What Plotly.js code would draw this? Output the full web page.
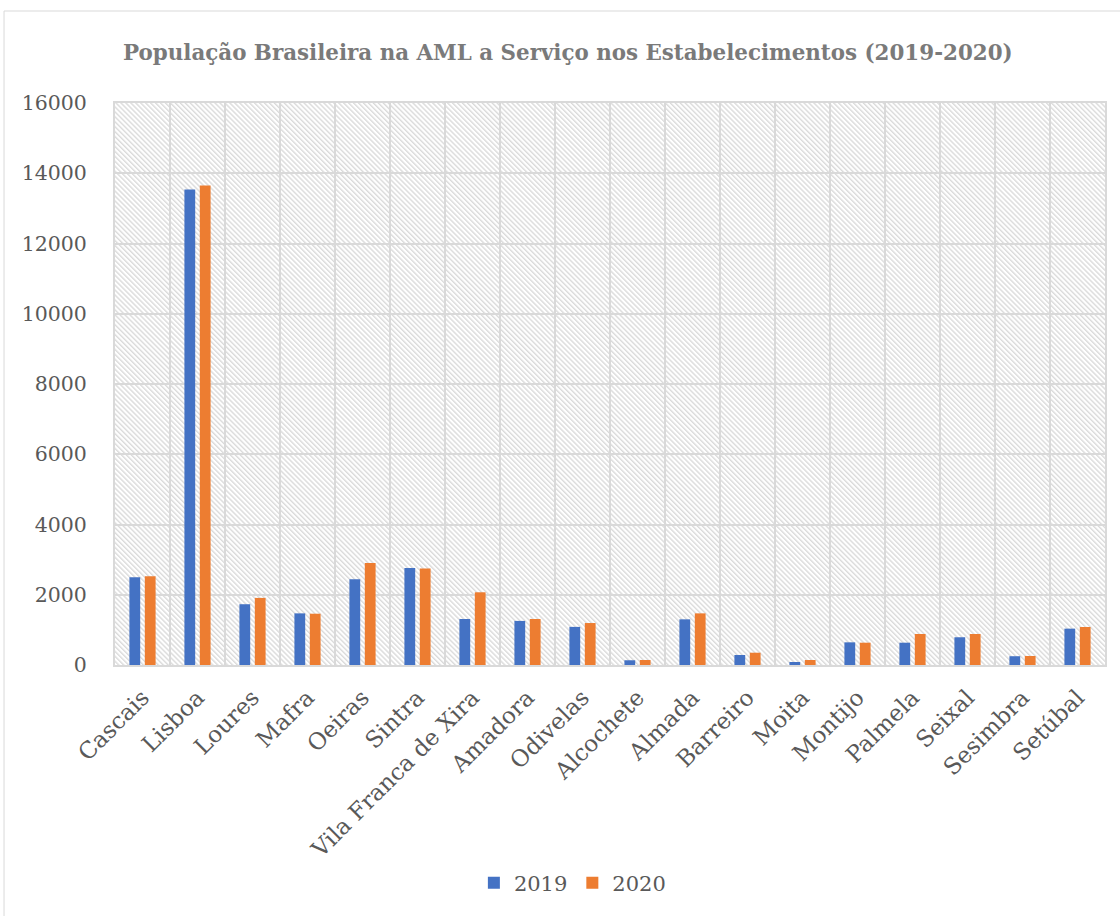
<!DOCTYPE html>
<html>
<head>
<meta charset="utf-8">
<script src="https://cdn.plot.ly/plotly-3.0.1.min.js"></script>
<style>html,body{margin:0;padding:0;background:#fff;}#chart{width:1120px;height:916px;}</style>
</head>
<body>
<div id="chart"></div>
<script>
const categories = ["Cascais","Lisboa","Loures","Mafra","Oeiras","Sintra","Vila Franca de Xira","Amadora","Odivelas","Alcochete","Almada","Barreiro","Moita","Montijo","Palmela","Seixal","Sesimbra","Setúbal"];
const v2019 = [2500, 13540, 1730, 1470, 2440, 2760, 1310, 1255, 1085, 135, 1300, 285, 85, 645, 635, 790, 250, 1035];
const v2020 = [2530, 13650, 1910, 1460, 2905, 2750, 2070, 1310, 1195, 142, 1470, 350, 142, 635, 883, 883, 256, 1082];
const seriesNames = ["2019", "2020"];
const yTicks = [0, 2000, 4000, 6000, 8000, 10000, 12000, 14000, 16000];

const FONT = "'DejaVu Serif',serif";

const hatchSvg = '<svg xmlns="http://www.w3.org/2000/svg" width="990" height="562">' +
  '<defs><pattern id="h" patternUnits="userSpaceOnUse" width="3.5" height="20" patternTransform="rotate(-45)">' +
  '<rect x="0" y="0" width="1.4" height="20" fill="#dadada"/></pattern></defs>' +
  '<rect width="990" height="562" fill="#ffffff"/><rect width="990" height="562" fill="url(#h)"/></svg>';

const traces = [
  {type: 'bar', name: seriesNames[0], x: categories, y: v2019, marker: {color: '#4472C4'}},
  {type: 'bar', name: seriesNames[1], x: categories, y: v2020, marker: {color: '#ED7D31'}}
];

const layout = {
  width: 1120, height: 916,
  margin: {l: 115, r: 15, t: 103, b: 251},
  paper_bgcolor: '#ffffff',
  plot_bgcolor: 'rgba(0,0,0,0)',
  font: {family: FONT, color: '#595959', size: 20},
  title: {
    text: '<b>População Brasileira na AML a Serviço nos Estabelecimentos (2019-2020)</b>',
    font: {family: FONT, size: 21.4, color: '#7a7a7a'},
    x: 0.507, xanchor: 'center', xref: 'container',
    y: 0.943, yanchor: 'middle', yref: 'container'
  },
  barmode: 'group',
  bargap: 0.44,
  bargroupgap: 0.3,
  xaxis: {
    type: 'category',
    tickson: 'boundaries',
    showgrid: true, gridcolor: '#d9d9d9', gridwidth: 2,
    showline: true, linecolor: '#d9d9d9', linewidth: 2, mirror: true,
    ticks: '', tickangle: -45,
    tickfont: {family: FONT, size: 23, color: '#595959'},
    ticklabelstandoff: 8,
    zeroline: false
  },
  yaxis: {
    range: [0, 16000],
    tickvals: yTicks,
    ticktext: yTicks.map(String),
    showgrid: true, gridcolor: '#d9d9d9', gridwidth: 2,
    showline: true, linecolor: '#d9d9d9', linewidth: 2, mirror: true,
    ticks: '', zeroline: false,
    tickfont: {family: FONT, size: 20.5, color: '#595959'},
    ticklabelstandoff: 22
  },
  legend: {
    orientation: 'h',
    x: 0.462, xanchor: 'center',
    y: -0.388, yanchor: 'middle',
    font: {family: FONT, size: 21, color: '#595959'},
    itemsizing: 'constant'
  },
  images: [{
    source: 'data:image/svg+xml;charset=utf-8,' + encodeURIComponent(hatchSvg),
    xref: 'paper', yref: 'paper', x: 0, y: 1, sizex: 1, sizey: 1,
    xanchor: 'left', yanchor: 'top', sizing: 'stretch', layer: 'below'
  }],
  shapes: [{
    type: 'rect', xref: 'paper', yref: 'paper',
    x0: -0.1121, x1: 1.03, y0: -0.46, y1: 1.1637,
    line: {color: '#d9d9d9', width: 1}, fillcolor: 'rgba(0,0,0,0)', layer: 'below'
  }]
};

Plotly.newPlot('chart', traces, layout, {displayModeBar: false, staticPlot: true});
</script>
</body>
</html>
